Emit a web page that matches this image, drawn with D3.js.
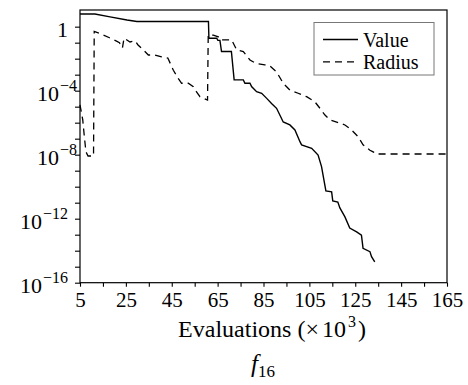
<!DOCTYPE html>
<html>
<head>
<meta charset="utf-8">
<script src="https://cdn.jsdelivr.net/npm/d3@7"></script>
<style>
  html, body { margin: 0; padding: 0; background: #fff; }
  svg { display: block; }
  svg text { font-family: "Liberation Serif", "Times New Roman", serif; fill: #000; }
</style>
</head>
<body>
<svg id="chart" width="468" height="385"></svg>
<script>
// Evaluations (thousands) and best objective value found
const valueEvals = [5, 11.5, 18.1, 25.5, 29.8, 61.0, 61.2, 64.6, 65.1, 66.0,
  66.7, 71.0, 72.2, 76.2, 76.9, 79.1, 79.8, 82.0, 84.2, 86.4,
  88.5, 90.7, 93.6, 96.5, 98.7, 100.9, 101.6, 106.0, 108.8, 110.3,
  112.2, 114.7, 115.2, 117.4, 118.3, 120.5, 122.6, 125.6, 127.7, 128.4,
  131.4, 132.1, 133.5];
const valueSeries = [6.2, 6.2, 4.1, 2.6, 2.1, 2.1, 0.19, 0.19, 0.14, 0.14,
  0.028, 0.028, 4.7e-4, 4.7e-4, 2.9e-4, 2.9e-4, 1.8e-4, 8.7e-5, 6.9e-5, 3.3e-5,
  1.6e-5, 7.9e-6, 1.1e-6, 7.2e-7, 3.5e-7, 6.5e-8, 4.1e-8, 2.5e-8, 9.5e-9, 1.8e-9,
  5.4e-11, 4.7e-11, 1.3e-11, 1.1e-11, 4.7e-12, 1.3e-12, 2.6e-13, 1.5e-13, 9.5e-14, 1.4e-14,
  8.7e-15, 4.2e-15, 2.0e-15];

// Evaluations (thousands) and search radius
const radiusEvals = [5.0, 6.2, 6.9, 7.6, 8.5, 10.9, 11.2, 14.2, 17.6, 20.7,
  22.2, 23.5, 24.2, 26.8, 29.0, 30.3, 33.3, 34.8, 37.7, 40.6,
  43.3, 45.7, 47.8, 49.3, 52.2, 54.4, 55.8, 57.3, 60.6, 60.9,
  63.1, 65.3, 66.0, 71.1, 73.3, 76.2, 79.1, 81.7, 85.6, 87.8,
  90.7, 93.6, 96.5, 100.1, 103.8, 107.4, 109.6, 111.8, 113.9, 116.9,
  120.5, 123.4, 126.3, 128.4, 131.4, 132.8, 134.0, 165];
const radiusSeries = [1.3e-5, 1.5e-6, 1.3e-7, 1.5e-8, 8.3e-9, 8.3e-9, 0.50, 0.35, 0.21, 0.13,
  0.10, 0.047, 0.19, 0.11, 0.13, 0.072, 0.028, 0.017, 0.017, 0.013,
  0.011, 1.9e-3, 5.9e-4, 2.9e-4, 2.9e-4, 1.8e-4, 8.3e-5, 4.2e-5, 2.6e-5, 0.30,
  0.30, 0.23, 0.15, 0.15, 0.035, 0.028, 8.3e-3, 5.1e-3, 4.1e-3, 3.5e-3,
  1.5e-3, 2.9e-4, 1.1e-4, 6.9e-5, 4.2e-5, 2.0e-5, 7.9e-6, 3.0e-6, 1.5e-6, 1.1e-6,
  7.2e-7, 3.5e-7, 1.3e-7, 4.1e-8, 1.9e-8, 1.5e-8, 1.1e-8, 1.1e-8];

const xTickValues = [5, 15, 25, 35, 45, 55, 65, 75, 85, 95, 105, 115, 125, 135, 145, 155, 165];
const xTickLabels = ["5", "", "25", "", "45", "", "65", "", "85", "", "105", "", "125", "", "145", "", "165"];
const yTickExponents = [0, -1, -2, -3, -4, -5, -6, -7, -8, -9, -10, -11, -12, -13, -14, -15, -16];
const yLabelExponents = [0, -4, -8, -12, -16];
const seriesNames = ["Value", "Radius"];

const svg = d3.select("#chart");
const plot = { left: 80, right: 447, top: 10, bottom: 282.7 };

const x = d3.scaleLinear().domain([5, 165]).range([plot.left, plot.right]);
const y = d3.scaleLog().domain([1e-16, 11]).range([plot.bottom, plot.top]);

// frame
svg.append("rect")
  .attr("x", plot.left).attr("y", plot.top)
  .attr("width", plot.right - plot.left).attr("height", plot.bottom - plot.top)
  .attr("fill", "none").attr("stroke", "#000").attr("stroke-width", 1.2);

// x axis
const xAxis = d3.axisBottom(x)
  .tickValues(xTickValues)
  .tickFormat((d, i) => xTickLabels[i])
  .tickSize(4).tickSizeOuter(0).tickPadding(5);
const gx = svg.append("g").attr("transform", `translate(0,${plot.bottom})`).call(xAxis);
gx.attr("font-family", null).attr("font-size", null);
gx.select(".domain").remove();
gx.selectAll(".tick line").attr("stroke", "#000").attr("stroke-width", 1.1);
gx.selectAll(".tick text")
  .attr("font-size", 21).attr("fill", "#000")
  .attr("dy", "0.72em");

// y axis
const yAxis = d3.axisLeft(y)
  .tickValues(yTickExponents.map(e => Math.pow(10, e)))
  .tickFormat("")
  .tickSize(5).tickSizeOuter(0);
const gy = svg.append("g").attr("transform", `translate(${plot.left},0)`).call(yAxis);
gy.select(".domain").remove();
gy.selectAll(".tick line").attr("stroke", "#000").attr("stroke-width", 1.1);

// y tick labels: 1 and powers of ten with superscript exponents
yLabelExponents.forEach(e => {
  const ty = y(Math.pow(10, e));
  const t = svg.append("text")
    .attr("text-anchor", "end")
    .attr("y", ty + 10);
  if (e === 0) {
    t.attr("x", 68).attr("font-size", 22).text("1");
  } else {
    const exp = "\u2212" + Math.abs(e);
    t.attr("x", Math.abs(e) < 10 ? 77 : 68).attr("font-size", 22);
    t.append("tspan").text("10");
    t.append("tspan").attr("font-size", 16).attr("dx", 1).attr("dy", -10).text(exp);
  }
});

// series lines
const line = d3.line().x(d => x(d[0])).y(d => y(d[1]));
const valuePts = valueEvals.map((v, i) => [v, valueSeries[i]]);
const radiusPts = radiusEvals.map((v, i) => [v, radiusSeries[i]]);

svg.append("path").datum(radiusPts)
  .attr("d", line).attr("fill", "none").attr("stroke", "#000")
  .attr("stroke-width", 1.3).attr("stroke-dasharray", "7,5");
svg.append("path").datum(valuePts)
  .attr("d", line).attr("fill", "none").attr("stroke", "#000")
  .attr("stroke-width", 1.4);

// legend
const lg = svg.append("g");
lg.append("rect").attr("x", 314).attr("y", 22.5).attr("width", 120).attr("height", 52.5)
  .attr("fill", "#fff").attr("stroke", "#777").attr("stroke-width", 1);
seriesNames.forEach((name, i) => {
  const ly = 39.5 + i * 22.3;
  lg.append("line").attr("x1", 323).attr("x2", 358).attr("y1", ly).attr("y2", ly)
    .attr("stroke", "#000").attr("stroke-width", i === 0 ? 1.4 : 1.3)
    .attr("stroke-dasharray", i === 0 ? null : "7,5");
  lg.append("text").attr("x", 363).attr("y", ly + 7)
    .attr("font-size", 20)
    .text(name);
});

// axis title
const xt = svg.append("text")
  .attr("x", 272).attr("y", 337).attr("text-anchor", "middle")
  .attr("font-size", 24);
xt.append("tspan").text("Evaluations (\u00d7");
xt.append("tspan").attr("dx", 3).text("10");
xt.append("tspan").attr("font-size", 16).attr("dx", 2).attr("dy", -10).text("3");
xt.append("tspan").attr("dx", 2).attr("dy", 10).text(")");

// function label
const ft = svg.append("text")
  .attr("x", 263).attr("y", 372).attr("text-anchor", "middle")
  .attr("font-size", 25);
ft.append("tspan").attr("font-style", "italic").text("f");
ft.append("tspan").attr("font-size", 17).attr("dy", 5).text("16");
</script>
</body>
</html>
